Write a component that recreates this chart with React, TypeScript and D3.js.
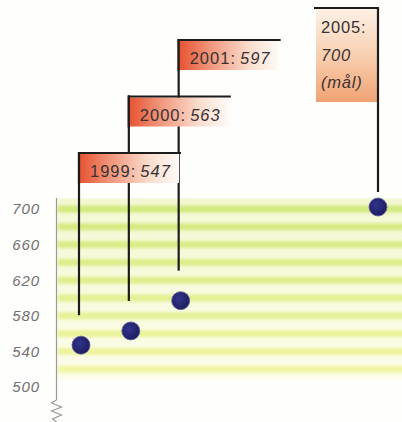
import React from "react";
import * as d3 from "d3";

const years = [1999, 2000, 2001];
const values = [547, 563, 597];
const goalYear = 2005;
const goalValue = 700;
const goalLabel = ["2005:", "700", "(mål)"];
const yTicks = [700, 660, 620, 580, 540, 500];
const stripeValues = [700, 680, 660, 640, 620, 600, 580, 560, 540, 520];

const W = 402;
const H = 422;

export default function App() {
  const x = d3.scaleLinear().domain([1999, 2005]).range([80, 379]);
  const y = d3.scaleLinear().domain([500, 700]).range([387, 209]);
  const bandColor = d3.scaleLinear<string>().domain([700, 520]).range(["#d3e97e", "#f0f5a2"]);
  const axisX = 56.5;
  const flagTop0 = 153;
  const flagStep = 56.5;
  const flagW = 102;
  const flagH = 29;
  const font = "'Liberation Sans', Arial, Helvetica, sans-serif";

  const zig = d3.line()([
    [axisX, 400],
    [axisX - 5, 403],
    [axisX + 5, 407],
    [axisX - 5, 411],
    [axisX + 5, 415],
    [axisX - 4, 419],
    [axisX, 422],
  ]);

  return (
    <svg width={W} height={H} style={{ position: "absolute", left: 0, top: 0, background: "#fefefc" }}>
      <defs>
        <linearGradient id="flagGrad" x1="0" x2="1" y1="0" y2="0">
          <stop offset="0" stopColor="#e6502f" />
          <stop offset="0.3" stopColor="#f09276" />
          <stop offset="0.7" stopColor="#fadccd" />
          <stop offset="1" stopColor="#fefaf6" />
        </linearGradient>
        <linearGradient id="goalGrad" x1="0" x2="0" y1="0" y2="1">
          <stop offset="0" stopColor="#fdf1e6" />
          <stop offset="0.5" stopColor="#f8cfb0" />
          <stop offset="1" stopColor="#f1a374" />
        </linearGradient>
        <linearGradient id="bgGrad" x1="0" x2="0" y1="0" y2="1">
          <stop offset="0" stopColor="#f3f8d3" />
          <stop offset="1" stopColor="#fdfdea" />
        </linearGradient>
        <radialGradient id="dotGrad" cx="0.4" cy="0.4" r="0.6">
          <stop offset="0" stopColor="#33338c" />
          <stop offset="1" stopColor="#1e1e62" />
        </radialGradient>
        <filter id="blur" x="-5%" y="-100%" width="110%" height="300%">
          <feGaussianBlur stdDeviation="1.4" />
        </filter>
      </defs>

      {/* striped band area */}
      <rect x={axisX + 1} y={y(712)} width={W - axisX} height={y(508) - y(712)} fill="url(#bgGrad)" />
      <g filter="url(#blur)">
        {stripeValues.map((v) => (
          <rect key={v} x={axisX + 1} y={y(v) - 3.5} width={W - axisX + 4} height={7} fill={bandColor(v)} />
        ))}
      </g>

      {/* axis */}
      <line x1={axisX} x2={axisX} y1={198} y2={400} stroke="#9a9a9a" strokeWidth={1.2} />
      <path d={zig ?? ""} fill="none" stroke="#9a9a9a" strokeWidth={1.2} />
      {yTicks.map((t) => (
        <text
          key={t}
          x={40}
          y={y(t)}
          dy="0.36em"
          textAnchor="end"
          fontFamily={font}
          fontStyle="italic"
          fontSize={15}
          fill="#707070"
          letterSpacing={0.9}
        >
          {t}
        </text>
      ))}

      {/* stems (under flags) */}
      {years.map((yr, i) => {
        const sx = x(yr) - 1;
        const top = flagTop0 - i * flagStep;
        return (
          <line key={yr} x1={sx} x2={sx} y1={top - 1} y2={y(values[i]) - 30} stroke="#1c1c1c" strokeWidth={2.2} />
        );
      })}

      {/* flags for actual years */}
      {years.map((yr, i) => {
        const sx = x(yr) - 1;
        const top = flagTop0 - i * flagStep;
        return (
          <g key={yr}>
            <rect x={sx - 1} y={top + 1} width={flagW - 1} height={flagH} fill="url(#flagGrad)" />
            <line x1={sx - 1} x2={sx + flagW} y1={top} y2={top} stroke="#1c1c1c" strokeWidth={2} />
            <line x1={sx} x2={sx} y1={top - 1} y2={top + flagH + 2} stroke="#1c1c1c" strokeWidth={2.2} />
            <text x={sx + 11} y={top + 24} fontFamily={font} fontSize={16.5} fill="#3a3232" letterSpacing={1}>
              {yr}:
              <tspan dx={4} fontStyle="italic">{values[i]}</tspan>
            </text>
          </g>
        );
      })}

      {/* goal flag */}
      {(() => {
        const sx = x(goalYear) - 1;
        const top = 8;
        return (
          <g>
            <rect x={sx - 62} y={top + 1} width={62} height={93} fill="url(#goalGrad)" />
            <line x1={sx - 64} x2={sx + 1} y1={top} y2={top} stroke="#1c1c1c" strokeWidth={2} />
            <line x1={sx} x2={sx} y1={top - 1} y2={y(goalValue) - 17} stroke="#1c1c1c" strokeWidth={2.2} />
            {goalLabel.map((s, k) => (
              <text
                key={k}
                x={sx - 57}
                y={top + 25 + k * 27.5}
                fontFamily={font}
                fontSize={16.5}
                fontStyle={k === 0 ? "normal" : "italic"}
                fill="#3a3232"
                letterSpacing={0.8}
              >
                {s}
              </text>
            ))}
          </g>
        );
      })()}

      {/* dots */}
      {years.map((yr, i) => (
        <circle key={yr} cx={x(yr) + 1} cy={y(values[i])} r={9} fill="url(#dotGrad)" stroke="#5a5a9a" strokeWidth={0.8} />
      ))}
      <circle cx={x(goalYear) - 1} cy={y(goalValue) - 2} r={9} fill="url(#dotGrad)" stroke="#5a5a9a" strokeWidth={0.8} />
    </svg>
  );
}
